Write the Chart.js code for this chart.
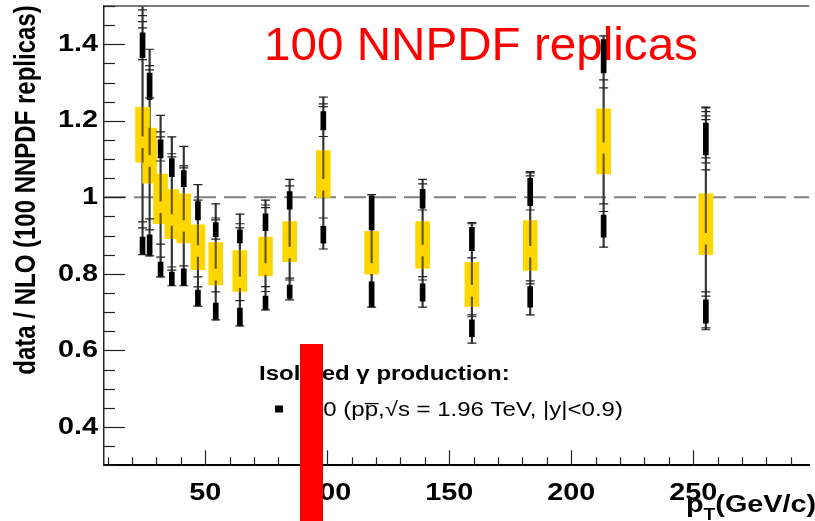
<!DOCTYPE html>
<html>
<head>
<meta charset="utf-8">
<script src="https://cdn.jsdelivr.net/npm/chart.js@4.4.1/dist/chart.umd.min.js"></script>
<style>
  html, body { margin: 0; padding: 0; background: #fff; }
  #wrap { position: relative; width: 815px; height: 521px; overflow: hidden; }
  #marker { position: absolute; left: 300px; top: 344px; width: 23px; height: 177px; background: #ff0000; }
</style>
</head>
<body>
<div id="wrap">
  <canvas id="chart" width="815" height="521"></canvas>
  <div id="marker"></div>
</div>
<script>
// data / NLO ratio for isolated photons, one error bar per NNPDF replica

const pT = [24.3, 27.2, 31.7, 36.3, 41.2, 47.0, 54.3, 64.2, 74.7, 84.6, 98.4, 118.2, 139.1, 159.3, 183.2, 213.3, 255.2];

// yellow data band and its central value
const bandLo  = [1.092, 1.037, 0.931, 0.892, 0.881, 0.811, 0.771, 0.754, 0.795, 0.832, 1.000, 0.799, 0.815, 0.715, 0.809, 1.061, 0.850];
const bandHi  = [1.235, 1.181, 1.061, 1.020, 1.009, 0.928, 0.882, 0.861, 0.896, 0.937, 1.122, 0.911, 0.937, 0.830, 0.939, 1.231, 1.009];
const central = [1.144, 1.095, 0.974, 0.941, 0.925, 0.860, 0.798, 0.778, 0.813, 0.856, 1.033, 0.813, 0.861, 0.756, 0.858, 1.129, 0.892];

// full reach of the replica error bars
const errLo = [0.850, 0.847, 0.792, 0.769, 0.769, 0.716, 0.680, 0.664, 0.706, 0.732, 0.865, 0.713, 0.713, 0.619, 0.693, 0.870, 0.654];
const errHi = [1.500, 1.387, 1.214, 1.158, 1.133, 1.033, 0.983, 0.956, 0.993, 1.047, 1.262, 1.007, 1.047, 0.934, 1.067, 1.422, 1.236];

// dense bunches of replica caps above and below the data
const upLo = [1.365, 1.255, 1.103, 1.054, 1.028, 0.941, 0.897, 0.881, 0.913, 0.969, 1.176, 0.915, 0.972, 0.861, 0.978, 1.325, 1.111];
const upHi = [1.430, 1.325, 1.150, 1.101, 1.070, 0.989, 0.934, 0.915, 0.957, 1.015, 1.224, 1.004, 1.021, 0.922, 1.050, 1.412, 1.194];
const dnLo = [0.850, 0.847, 0.792, 0.769, 0.769, 0.716, 0.680, 0.664, 0.706, 0.736, 0.880, 0.713, 0.729, 0.636, 0.713, 0.896, 0.671];
const dnHi = [0.896, 0.902, 0.831, 0.805, 0.813, 0.758, 0.724, 0.711, 0.742, 0.771, 0.924, 0.779, 0.774, 0.680, 0.767, 0.954, 0.732];

// loose caps outside the bunches
const caps = [
  [1.500, 1.490, 1.475, 1.459, 1.443, 1.360, 0.936, 0.920, 0.850],
  [1.387, 1.344, 1.333, 1.260, 0.944, 0.915, 0.847],
  [1.214, 1.171, 1.158, 1.095, 0.878, 0.844, 0.792],
  [1.158, 1.114, 1.106, 0.818, 0.810, 0.769],
  [1.133, 1.082, 1.077, 0.821, 0.769],
  [1.033, 0.993, 0.792, 0.766, 0.716],
  [0.983, 0.946, 0.941, 0.891, 0.753, 0.680],
  [0.956, 0.931, 0.920, 0.730, 0.664],
  [0.993, 0.980, 0.973, 0.767, 0.754, 0.706],
  [1.047, 1.030, 0.789, 0.784, 0.732],
  [1.262, 1.244, 1.237, 1.159, 0.946, 0.865],
  [1.007, 0.713],
  [1.047, 1.035, 0.967, 0.793, 0.784, 0.713],
  [0.934, 0.931, 0.842, 0.693, 0.688, 0.619],
  [1.067, 1.064, 1.056, 0.967, 0.782, 0.774, 0.693],
  [1.422, 1.307, 1.286, 0.983, 0.963, 0.870],
  [1.236, 1.234, 1.224, 1.213, 1.203, 1.103, 1.090, 1.072, 0.753, 0.742, 0.659, 0.654],
];

const xRange = [8.5, 297.6];
const yRange = [0.3, 1.5];
const xMajor = [50, 100, 150, 200, 250];
const xTickLabels = ['50', '100', '150', '200', '250'];
const yMajor = [0.4, 0.6, 0.8, 1.0, 1.2, 1.4];
const yTickLabels = ['0.4', '0.6', '0.8', '1', '1.2', '1.4'];
const xMinorStep = 10;
const yMinorStep = 0.05;
const refLevel = 1;

const GAP = 0.016; // hole in the band line around the central value
const FONT = '"Liberation Sans", Arial, Helvetica, sans-serif';
const SX = 1.2;    // ROOT text comes out a little wide

const span = (lo, hi) => pT.map((x, i) => ({ x, y: [lo[i], hi[i]] }));

function stretchText(ctx, text, x, y, align, sx) {
  ctx.save();
  ctx.translate(x, y);
  ctx.scale(sx, 1);
  ctx.textAlign = align;
  ctx.fillText(text, 0, 0);
  ctx.restore();
}

function buildTicks(lo, hi, step, majors) {
  const out = [];
  for (let k = Math.ceil(lo / step - 1e-6); k * step <= hi + 1e-6; k++) {
    const v = +(k * step).toFixed(4);
    out.push({ value: v, major: majors.some(m => Math.abs(m - v) < 1e-6) });
  }
  return out;
}

const rootStyle = {
  id: 'rootStyle',
  beforeDatasetsDraw(chart) {
    const ctx = chart.ctx;
    ctx.save();
    ctx.fillStyle = '#ff0000';
    ctx.font = '46px ' + FONT;
    ctx.textBaseline = 'alphabetic';
    stretchText(ctx, '100 NNPDF replicas', 264, 60, 'left', 1.035);
    ctx.restore();
  },
  afterDatasetsDraw(chart) {
    const { ctx, chartArea: a, scales: { x, y } } = chart;
    ctx.save();

    // top edge of the frame
    ctx.strokeStyle = '#555';
    ctx.lineWidth = 1.5;
    ctx.beginPath();
    ctx.moveTo(a.left, a.top);
    ctx.lineTo(a.right, a.top);
    ctx.stroke();

    // inward ticks
    ctx.strokeStyle = '#222';
    ctx.lineWidth = 1.2;
    y.ticks.forEach(t => {
      const py = Math.round(y.getPixelForValue(t.value)) + 0.5;
      ctx.beginPath();
      ctx.moveTo(a.left, py);
      ctx.lineTo(a.left + (t.major ? 21 : 11), py);
      ctx.stroke();
    });
    x.ticks.forEach(t => {
      const px = Math.round(x.getPixelForValue(t.value)) + 0.5;
      ctx.beginPath();
      ctx.moveTo(px, a.bottom);
      ctx.lineTo(px, a.bottom - (t.major ? 15 : 8));
      ctx.stroke();
    });

    // tick labels
    ctx.fillStyle = '#000';
    ctx.font = 'bold 24px ' + FONT;
    ctx.textBaseline = 'middle';
    yMajor.forEach((v, i) => stretchText(ctx, yTickLabels[i], 98, y.getPixelForValue(v), 'right', SX));
    ctx.textBaseline = 'alphabetic';
    xMajor.forEach((v, i) => stretchText(ctx, xTickLabels[i], x.getPixelForValue(v), 500, 'center', SX));

    // y title
    ctx.save();
    ctx.translate(27, 190);
    ctx.rotate(-Math.PI / 2);
    ctx.scale(1, SX);
    ctx.font = 'bold 24px ' + FONT;
    ctx.textAlign = 'center';
    ctx.textBaseline = 'middle';
    ctx.fillText('data / NLO (100 NNPDF replicas)', 0, 0);
    ctx.restore();

    // x title with subscript
    ctx.font = 'bold 24px ' + FONT;
    ctx.textBaseline = 'alphabetic';
    let cx = 686;
    stretchText(ctx, 'p', cx, 512, 'left', SX);
    cx += ctx.measureText('p').width * SX;
    ctx.font = 'bold 16px ' + FONT;
    stretchText(ctx, 'T', cx, 520, 'left', SX);
    cx += ctx.measureText('T').width * SX;
    ctx.font = 'bold 24px ' + FONT;
    stretchText(ctx, '(GeV/c)', cx, 512, 'left', SX);

    // legend
    ctx.font = 'bold 20px ' + FONT;
    stretchText(ctx, 'Isolated \u03b3 production:', 259, 380, 'left', SX);
    ctx.fillRect(275, 405.5, 8, 7);
    ctx.font = '20px ' + FONT;
    stretchText(ctx, 'D0 (pp\u0305,\u221as = 1.96 TeV, |y|<0.9)', 306, 416, 'left', SX);

    ctx.restore();
  }
};

const bar = (data, thickness, color, order) => ({
  type: 'bar', data, order, grouped: false, borderWidth: 0,
  barThickness: thickness, backgroundColor: color
});

new Chart(document.getElementById('chart'), {
  type: 'bar',
  data: {
    datasets: [
      {
        type: 'line', order: 10,
        data: [{ x: xRange[0], y: refLevel }, { x: xRange[1], y: refLevel }],
        borderColor: '#808080', borderWidth: 2, borderDash: [22, 8], pointRadius: 0
      },
      bar(span(errLo, errHi), 1.5, '#333333', 9),
      bar(span(bandLo, bandHi), 14, '#ffd700', 8),
      bar(span(central.map(c => c + GAP), bandHi), 1.5, 'rgba(70,58,0,0.8)', 7),
      bar(span(bandLo, central.map(c => c - GAP)), 1.5, 'rgba(70,58,0,0.8)', 7),
      bar(span(upLo, upHi), 5, '#000000', 6),
      bar(span(dnLo, dnHi), 5, '#000000', 6),
      {
        type: 'scatter', order: 5,
        data: caps.flatMap((list, i) => list.map(v => ({ x: pT[i], y: v }))),
        pointStyle: 'line', pointRadius: 4.5, borderWidth: 1.2, borderColor: '#222222',
        showLine: false
      }
    ]
  },
  options: {
    responsive: false,
    animation: false,
    devicePixelRatio: 1,
    layout: { padding: { top: 6, left: 0, right: 0, bottom: 0 } },
    plugins: { legend: { display: false }, tooltip: { enabled: false } },
    scales: {
      x: {
        type: 'linear', min: xRange[0], max: xRange[1], offset: false,
        grid: { display: false },
        border: { display: true, color: '#000', width: 2 },
        ticks: { display: false },
        afterBuildTicks: s => { s.ticks = buildTicks(10, xRange[1], xMinorStep, xMajor); },
        afterFit: s => { s.height = 55.75; }
      },
      y: {
        type: 'linear', min: yRange[0], max: yRange[1],
        grid: { display: false },
        border: { display: true, color: '#222', width: 1.5 },
        ticks: { display: false },
        afterBuildTicks: s => { s.ticks = buildTicks(yRange[0], yRange[1], yMinorStep, yMajor); },
        afterFit: s => { s.width = 104; }
      }
    }
  },
  plugins: [rootStyle]
});
</script>
</body>
</html>
